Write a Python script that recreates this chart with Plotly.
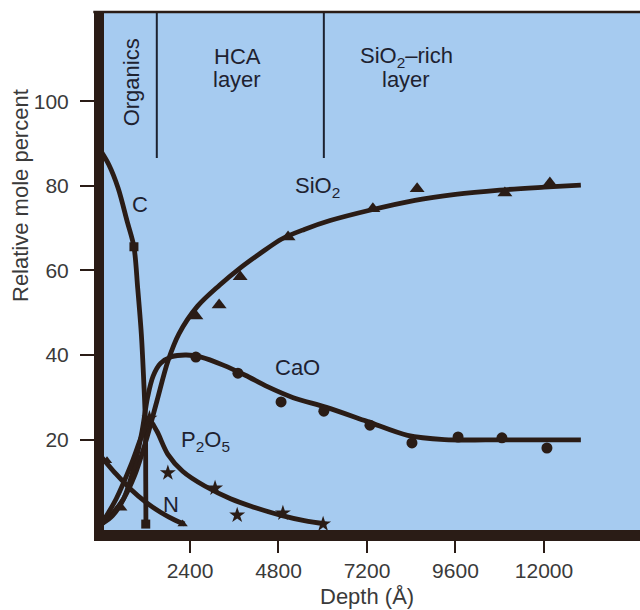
import plotly.graph_objects as go

# ---- data ----
depth_ticks = [2400, 4800, 7200, 9600, 12000]
pct_ticks = [20, 40, 60, 80, 100]

c_curve_x = [0, 200, 450, 700, 880, 980, 1080, 1150, 1190, 1200, 1205]
c_curve_y = [88, 85, 79.5, 71.5, 65.6, 56, 45, 33, 24, 10, 0]
c_pts_x = [0, 880, 1200]
c_pts_y = [88, 65.6, 0]

sio2_curve_x = [0, 300, 600, 900, 1200, 1500, 1800, 2100, 2600, 3200, 3750, 4300,
                4900, 5500, 6200, 7300, 8500, 9600, 10800, 12000, 13000]
sio2_curve_y = [0, 2.5, 6, 11.5, 19.5, 29, 38.5, 45, 51.5, 56.5, 60.5, 64,
                67.5, 69.7, 71.8, 74.3, 76.6, 78, 79, 79.7, 80.2]
sio2_pts_x = [500, 2560, 3190, 3760, 5060, 7360, 8560, 10940, 12160]
sio2_pts_y = [4, 49.2, 51.8, 58.5, 67.9, 74.6, 79.3, 78.3, 80.7]

cao_curve_x = [0, 300, 600, 900, 1100, 1250, 1400, 1600, 1900, 2300, 2700, 3300,
               3900, 4500, 5200, 6100, 7200, 8300, 9300, 10500, 13000]
cao_curve_y = [0, 2, 6, 14, 22, 30, 35, 38, 39.6, 40, 39.5, 37.6,
               35.2, 32.5, 29.9, 27.6, 24.3, 21, 20, 19.9, 19.9]
cao_pts_x = [2560, 3700, 4870, 6030, 7280, 8420, 9670, 10860, 12080]
cao_pts_y = [39.5, 35.7, 28.9, 26.7, 23.4, 19.2, 20.6, 20.4, 18]

p2o5_curve_x = [0, 400, 800, 1100, 1300, 1500, 1800, 2200, 2800, 3500, 4200, 4900, 5500, 6100]
p2o5_curve_y = [0, 6, 14, 21, 24.5, 22, 16.5, 12.5, 9, 6, 3.8, 2, 0.8, 0]
p2o5_pts_x = [1300, 1800, 3080, 3680, 4920, 6010]
p2o5_pts_y = [25, 12.1, 8.5, 2.1, 2.6, 0]

n_curve_x = [0, 400, 800, 1200, 1600, 2000, 2250]
n_curve_y = [15.9, 11.8, 8.2, 5.2, 2.8, 0.9, 0]
n_pts_x = [150, 2200]
n_pts_y = [15, 0]

layer_bounds = [1500, 6030]

DARK = "#2a1c16"
BLUE = "#a6cbf0"
TXT = "#1e2230"
GREY = "#3a3a3a"
FONT = "Liberation Sans, Arial, sans-serif"

fig = go.Figure()

def curve(x, y):
    fig.add_trace(go.Scatter(x=x, y=y, mode="lines",
                             line=dict(color=DARK, width=4.8, shape="spline", smoothing=0.9),
                             hoverinfo="skip", showlegend=False))

def pts(x, y, symbol, size):
    fig.add_trace(go.Scatter(x=x, y=y, mode="markers", cliponaxis=False,
                             marker=dict(symbol=symbol, size=size, color=DARK,
                                         line=dict(width=0)),
                             hoverinfo="skip", showlegend=False))

curve(c_curve_x, c_curve_y)
curve(sio2_curve_x, sio2_curve_y)
curve(cao_curve_x, cao_curve_y)
curve(p2o5_curve_x, p2o5_curve_y)
curve(n_curve_x, n_curve_y)

pts(c_pts_x, c_pts_y, "square", 9)
pts(sio2_pts_x, sio2_pts_y, "triangle-up", 13)
pts(cao_pts_x, cao_pts_y, "circle", 11)
pts(p2o5_pts_x, p2o5_pts_y, "star", 12)
pts(n_pts_x, n_pts_y, "triangle-up", 9)

for xb in layer_bounds:
    fig.add_shape(type="line", xref="x", yref="y", x0=xb, x1=xb, y0=86.6, y1=121,
                  line=dict(color="#1c2230", width=2))
fig.add_shape(type="line", xref="paper", yref="paper", x0=-0.02, x1=1, y0=1.002, y1=1.002,
              line=dict(color=DARK, width=2.5))

ann = [
    dict(text="C", x=1044, y=75.5),
    dict(text="SiO<sub>2</sub>", x=5871, y=79.8),
    dict(text="CaO", x=5302, y=37),
    dict(text="P<sub>2</sub>O<sub>5</sub>", x=2807, y=19.6),
    dict(text="N", x=1880, y=4.6),
    dict(text="HCA", x=3675, y=110.6),
    dict(text="layer", x=3675, y=105.2),
    dict(text="SiO<sub>2</sub>–rich", x=8258, y=110.6),
    dict(text="layer", x=8258, y=105.2),
]
for a in ann:
    fig.add_annotation(x=a["x"], y=a["y"], xref="x", yref="y", text=a["text"],
                       xanchor="center", yanchor="middle",
                       showarrow=False, font=dict(family=FONT, size=22, color=TXT))
fig.add_annotation(x=800, y=104.5, xref="x", yref="y", text="Organics", textangle=-90,
                   xanchor="center", yanchor="middle",
                   showarrow=False, font=dict(family=FONT, size=22, color=TXT))

fig.add_annotation(x=(20 - 104) / 536, y=(530 - 196) / 517, xref="paper", yref="paper",
                   xanchor="center", yanchor="middle",
                   text="Relative mole percent", textangle=-90, showarrow=False,
                   font=dict(family=FONT, size=22, color=GREY))
fig.add_annotation(x=(367 - 104) / 536, y=(530 - 596) / 517, xref="paper", yref="paper",
                   xanchor="center", yanchor="middle",
                   text="Depth (Å)", showarrow=False,
                   font=dict(family=FONT, size=22, color=GREY))

fig.update_layout(
    width=640, height=610,
    margin=dict(l=104, r=0, t=13, b=80),
    paper_bgcolor="white", plot_bgcolor=BLUE,
    font=dict(family=FONT, size=21, color=GREY),
    showlegend=False,
)
fig.update_xaxes(range=[68, 14604], tickvals=depth_ticks,
                 ticktext=[str(v) for v in depth_ticks],
                 showgrid=False, zeroline=False, showline=True, linewidth=11, linecolor=DARK,
                 ticks="outside", ticklen=12, tickwidth=2, tickcolor=DARK,
                 tickfont=dict(size=21, color=GREY))
fig.update_yaxes(range=[-1.4, 120.9], tickvals=pct_ticks,
                 ticktext=[str(v) for v in pct_ticks],
                 showgrid=False, zeroline=False, showline=True, linewidth=10, linecolor=DARK,
                 ticks="outside", ticklen=14, tickwidth=2, tickcolor=DARK,
                 ticklabelstandoff=7,
                 tickfont=dict(size=21, color=GREY))

fig.write_html("out.html")
